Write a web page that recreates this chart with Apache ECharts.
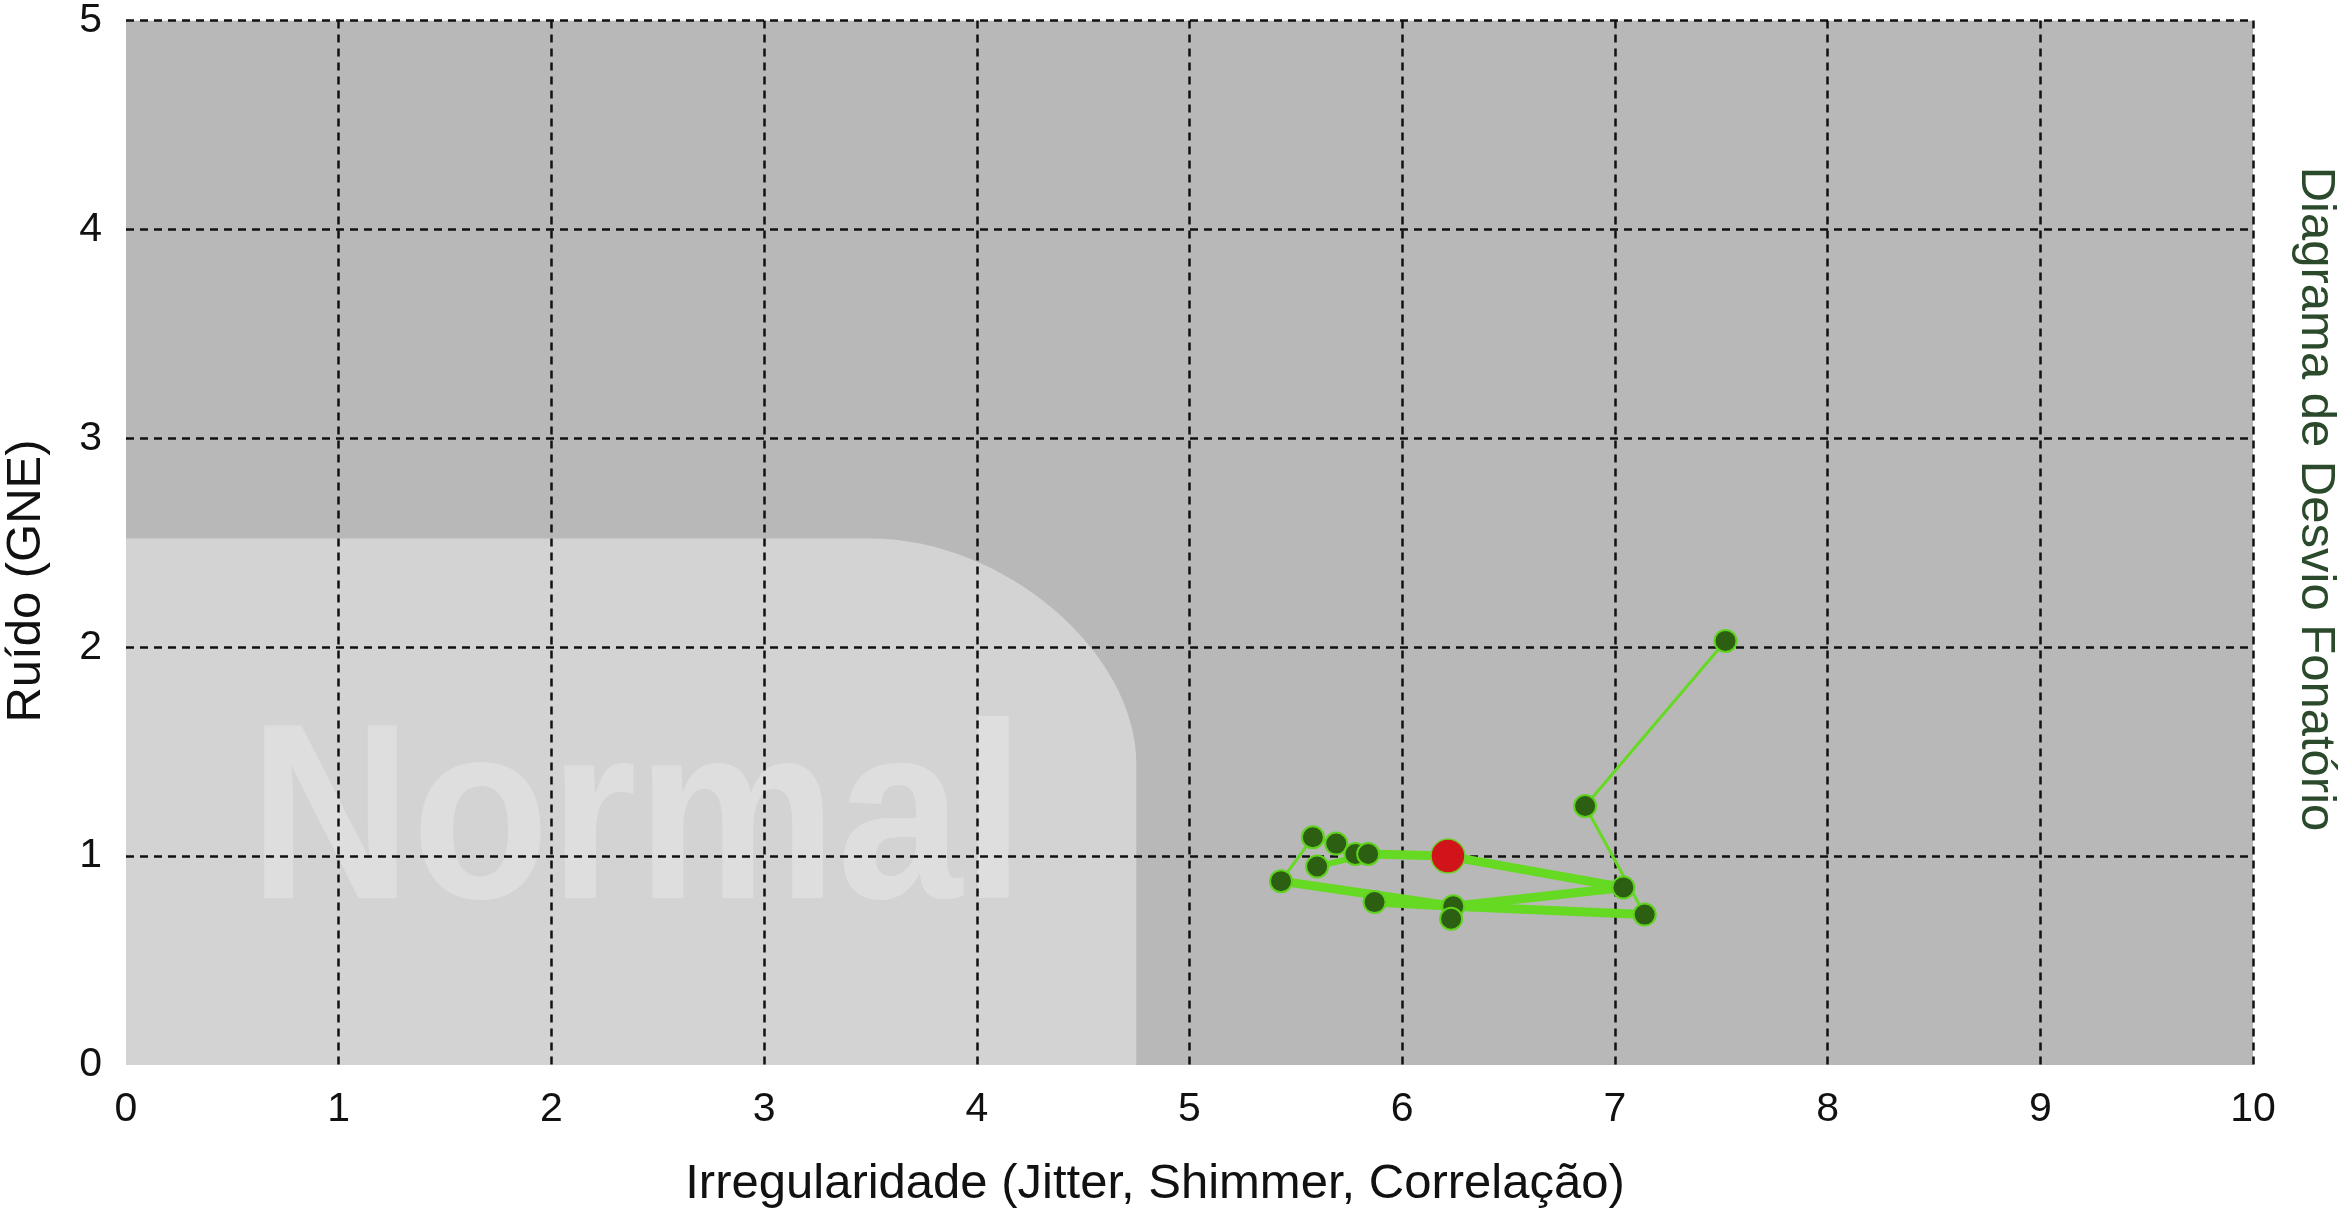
<!DOCTYPE html>
<html>
<head>
<meta charset="utf-8">
<style>
  html, body { margin: 0; padding: 0; background: #fff; }
  #chart { width: 2343px; height: 1212px; }
</style>
<script src="https://cdn.jsdelivr.net/npm/echarts@6/dist/echarts.min.js"></script>
</head>
<body>
<div id="chart"></div>
<script>
// ticks
const xTicks = [0, 10, 1]   // min, max, interval
const yTicks = [0, 5, 1]

// zona "Normal": canto superior direito e raio do canto (unidades dos eixos)
const normalZone = [4.75, 2.52]
const normalCorner = [1.25, 1.08]

// pontos individuais
const pointsX = [7.52, 6.86, 7.04, 7.14, 6.24, 6.23, 5.87, 5.43, 5.60, 5.58, 5.69, 5.78, 5.84]
const pointsY = [2.03, 1.24, 0.85, 0.72, 0.76, 0.70, 0.78, 0.88, 0.95, 1.09, 1.06, 1.01, 1.01]

// ponto médio
const meanPoint = [6.215, 1.0]

// trajetos entre pontos (índices em pointsX/pointsY, -1 = ponto médio)
const thinPaths = [[0, 1, 3], [9, 7], [9, 10, 11, 12]]
const thickPaths = [[12, -1, 2], [7, 4, 2], [6, 4, 3]]
const mediumPaths = [[8, 12]]

const pt = i => (i < 0 ? meanPoint : [pointsX[i], pointsY[i]])

const FONT = 'Liberation Sans, Arial, Helvetica, sans-serif'
const LINE_GREEN = '#66d922'

const chart = echarts.init(document.getElementById('chart'))

function pathSeries(paths, width) {
  return paths.map(p => ({
    type: 'line',
    data: p.map(pt),
    showSymbol: false,
    z: 3,
    silent: true,
    lineStyle: { color: LINE_GREEN, width: width, cap: 'round', join: 'round' }
  }))
}

const option = {
  animation: false,
  backgroundColor: '#ffffff',
  grid: { left: 126, right: 90, top: 19, bottom: 147 },
  xAxis: {
    type: 'value',
    min: xTicks[0],
    max: xTicks[1],
    interval: xTicks[2],
    axisLine: { show: false },
    axisTick: { show: false },
    axisLabel: { fontSize: 41, color: '#111', margin: 24, fontFamily: FONT },
    splitLine: {
      show: true,
      showMinLine: false,
      lineStyle: { color: '#111', width: 2.5, type: [8, 6] }
    }
  },
  yAxis: {
    type: 'value',
    min: yTicks[0],
    max: yTicks[1],
    interval: yTicks[2],
    axisLine: { show: false },
    axisTick: { show: false },
    axisLabel: { fontSize: 41, color: '#111', margin: 24, fontFamily: FONT },
    splitLine: {
      show: true,
      showMinLine: false,
      lineStyle: { color: '#111', width: 2.5, type: [8, 6] }
    }
  },
  graphic: [
    {
      type: 'text', x: 1155, y: 1184,
      style: { text: 'Irregularidade (Jitter, Shimmer, Correlação)', fontSize: 49, fontFamily: FONT, fill: '#111', align: 'center', verticalAlign: 'middle' }
    },
    {
      type: 'text', x: 26, y: 581, rotation: Math.PI / 2,
      style: { text: 'Ruído (GNE)', fontSize: 49, fontFamily: FONT, fill: '#111', align: 'center', verticalAlign: 'middle' }
    },
    {
      type: 'text', x: 2316, y: 499, rotation: -Math.PI / 2,
      style: { text: 'Diagrama de Desvio Fonatório', fontSize: 49, fontFamily: FONT, fill: '#2b4a2b', align: 'center', verticalAlign: 'middle' }
    }
  ],
  series: [
    {
      // fundo + zona normal
      type: 'custom',
      z: -1,
      silent: true,
      clip: true,
      data: [normalZone],
      renderItem: function (params, api) {
        const x0 = api.coord([xTicks[0], yTicks[0]])
        const x1 = api.coord([xTicks[1], yTicks[1]])
        const zr = api.coord([api.value(0), api.value(1)])
        const c = api.coord([api.value(0) - normalCorner[0], api.value(1) - normalCorner[1]])
        const k = 0.5
        const rx = zr[0] - c[0]
        const ry = c[1] - zr[1]
        const d = 'M' + x0[0] + ' ' + x0[1] +
          ' L' + x0[0] + ' ' + zr[1] +
          ' L' + c[0] + ' ' + zr[1] +
          ' C' + (c[0] + k * rx) + ' ' + zr[1] + ' ' + zr[0] + ' ' + (c[1] - k * ry) + ' ' + zr[0] + ' ' + c[1] +
          ' L' + zr[0] + ' ' + x0[1] + ' Z'
        const t = api.coord([0.58, 1.13])
        return {
          type: 'group',
          children: [
            { type: 'rect', shape: { x: x0[0], y: x1[1], width: x1[0] - x0[0], height: x0[1] - x1[1] }, style: { fill: '#b8b8b8' } },
            { type: 'path', shape: { pathData: d }, style: { fill: '#d3d3d3' } },
            {
              type: 'text', x: t[0], y: t[1], scaleX: 0.9,
              style: { text: 'Normal', fontSize: 250, fontWeight: 'bold', fontFamily: FONT, fill: '#dedede', align: 'left', verticalAlign: 'middle' }
            }
          ]
        }
      }
    },
    ...pathSeries(thinPaths, 3),
    ...pathSeries(mediumPaths, 6),
    ...pathSeries(thickPaths, 9),
    {
      type: 'scatter',
      z: 4,
      symbol: 'circle',
      symbolSize: 22,
      data: pointsX.map((x, i) => [x, pointsY[i]]),
      itemStyle: { color: '#2d5f12', borderColor: '#5fd21e', borderWidth: 2, opacity: 1 }
    },
    {
      type: 'scatter',
      z: 5,
      symbol: 'circle',
      symbolSize: 34,
      data: [meanPoint],
      itemStyle: { color: '#d0141a', borderColor: '#6fcf2e', borderWidth: 1.5, opacity: 1 }
    }
  ]
}

chart.setOption(option)
</script>
</body>
</html>
